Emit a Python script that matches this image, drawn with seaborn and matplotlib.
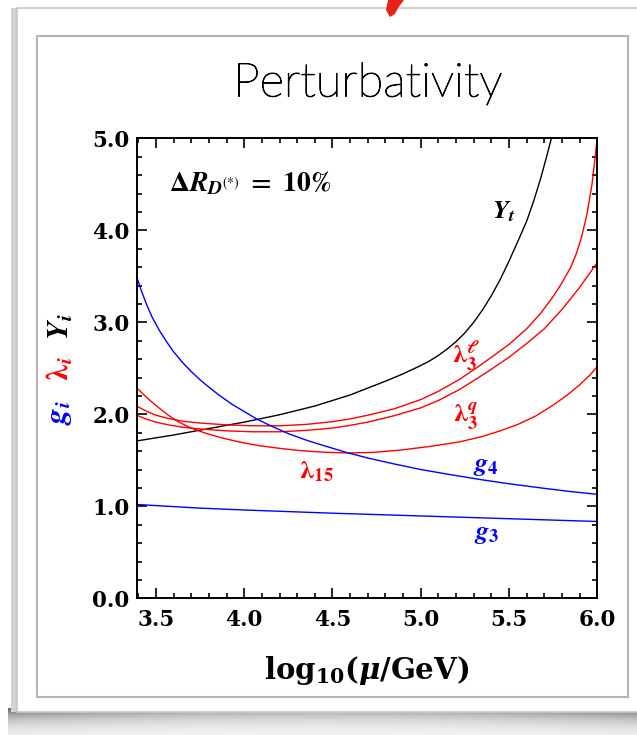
import numpy as np
import pandas as pd
import seaborn as sns
import matplotlib
matplotlib.use("Agg")
import matplotlib.pyplot as plt
import matplotlib.patheffects as pe
from matplotlib.patches import Rectangle, Polygon
from matplotlib.ticker import MultipleLocator, FuncFormatter

# ---------------- data ----------------
yt_x = [3.39, 3.6, 3.8, 4.0, 4.2, 4.4, 4.6, 4.7, 4.8, 4.9, 5.0, 5.05, 5.1, 5.15, 5.2, 5.25, 5.3, 5.35,
        5.4, 5.45, 5.5, 5.55, 5.6, 5.64, 5.68, 5.71, 5.74]
yt_y = [1.71, 1.775, 1.845, 1.915, 1.995, 2.09, 2.21, 2.285, 2.36, 2.44, 2.53, 2.58, 2.64, 2.71, 2.79,
        2.885, 3.00, 3.135, 3.29, 3.465, 3.665, 3.88, 4.10, 4.32, 4.57, 4.78, 5.00]

l3l_x = [3.39, 3.45, 3.5, 3.57, 3.65, 3.75, 3.9, 4.05, 4.2, 4.35, 4.5, 4.6, 4.7, 4.85, 5.0, 5.1, 5.22,
         5.32, 5.4, 5.5, 5.6, 5.68, 5.75, 5.8, 5.85, 5.88, 5.91, 5.94, 5.97, 6.0]
l3l_y = [2.09, 2.03, 1.99, 1.955, 1.925, 1.905, 1.885, 1.875, 1.875, 1.89, 1.92, 1.95, 1.99, 2.06, 2.16,
         2.25, 2.38, 2.51, 2.62, 2.76, 2.93, 3.10, 3.28, 3.43, 3.60, 3.74, 3.92, 4.16, 4.50, 5.00]

l3q_x = [3.39, 3.45, 3.5, 3.57, 3.65, 3.75, 3.9, 4.05, 4.2, 4.35, 4.5, 4.6, 4.7, 4.85, 5.0, 5.1, 5.22,
         5.32, 5.4, 5.5, 5.6, 5.7, 5.8, 5.9, 6.0]
l3q_y = [1.99, 1.945, 1.915, 1.885, 1.86, 1.84, 1.82, 1.81, 1.81, 1.825, 1.85, 1.88, 1.915, 1.985, 2.07,
         2.15, 2.27, 2.39, 2.49, 2.62, 2.77, 2.93, 3.14, 3.38, 3.65]

l15_x = [3.39, 3.43, 3.47, 3.52, 3.57, 3.63, 3.70, 3.78, 3.87, 3.97, 4.08, 4.2, 4.32, 4.45, 4.58, 4.72,
         4.88, 5.05, 5.22, 5.35, 5.45, 5.55, 5.65, 5.75, 5.83, 5.9, 5.96, 6.0]
l15_y = [2.29, 2.215, 2.145, 2.065, 1.99, 1.915, 1.85, 1.795, 1.745, 1.70, 1.66, 1.63, 1.605, 1.588, 1.58,
         1.585, 1.61, 1.65, 1.70, 1.76, 1.82, 1.89, 1.98, 2.10, 2.21, 2.32, 2.43, 2.52]

g4_x = [3.39, 3.42, 3.45, 3.48, 3.52, 3.56, 3.60, 3.65, 3.70, 3.75, 3.80, 3.86, 3.93, 4.00, 4.07, 4.15,
        4.25, 4.35, 4.45, 4.58, 4.70, 4.85, 5.00, 5.15, 5.34, 5.50, 5.70, 5.85, 6.00]
g4_y = [3.50, 3.33, 3.18, 3.05, 2.91, 2.79, 2.68, 2.565, 2.465, 2.375, 2.295, 2.205, 2.11, 2.03, 1.95,
        1.875, 1.79, 1.72, 1.66, 1.585, 1.525, 1.46, 1.40, 1.35, 1.29, 1.245, 1.195, 1.16, 1.13]

g3_x = [3.39, 3.75, 4.0, 4.5, 5.0, 5.5, 6.0]
g3_y = [1.02, 0.98, 0.96, 0.925, 0.895, 0.865, 0.835]

x_ticks = [3.5, 4.0, 4.5, 5.0, 5.5, 6.0]
y_ticks = [0.0, 1.0, 2.0, 3.0, 4.0, 5.0]

W, H = 637, 735

sns.set_style("ticks")
plt.rcParams["mathtext.fontset"] = "dejavuserif"
plt.rcParams["font.family"] = ["DejaVu Sans"]
plt.rcParams["text.color"] = "black"
plt.rcParams["axes.labelcolor"] = "black"
plt.rcParams["xtick.color"] = "black"
plt.rcParams["ytick.color"] = "black"

fig = plt.figure(figsize=(W / 100, H / 100), dpi=100)
fig.patch.set_facecolor("white")


def fx(px):
    return px / W


def fy(py):
    return 1 - py / H


# ------------- slide decoration -------------
sh = fig.add_axes([fx(8), fy(735), fx(637) - fx(8), fy(708) - fy(735)], zorder=0)
t = np.linspace(0, 1, 60)
u = np.linspace(-1, 1, 300)
across = 0.65 + 0.35 * (u ** 2)
img = np.outer(np.exp(-t * 2.2), across)
sh.imshow(1 - 0.62 * img, cmap="gray", vmin=0, vmax=1, aspect="auto", extent=[0, 1, 0, 1])
sh.axis("off")
fig.add_artist(Rectangle((fx(11), fy(712)), fx(8), fy(8) - fy(712), transform=fig.transFigure,
                         facecolor="#d2d2d2", edgecolor="none", zorder=1))
fig.add_artist(Rectangle((fx(17), fy(712)), fx(660) - fx(17), fy(8) - fy(712), transform=fig.transFigure,
                         facecolor="white", edgecolor="#c8c8c8", lw=1.2, zorder=1))
fig.add_artist(Rectangle((fx(37), fy(697)), fx(628) - fx(37), fy(36) - fy(697), transform=fig.transFigure,
                         facecolor="white", edgecolor="#b5b5b5", lw=1.5, zorder=1))
fig.add_artist(Polygon([(fx(388), fy(0)), (fx(404), fy(0)), (fx(398), fy(8)), (fx(395), fy(14)),
                        (fx(390), fy(17)), (fx(386), fy(10))], closed=True, transform=fig.transFigure,
                       facecolor="#e8221a", edgecolor="none", zorder=2))

fig.text(fx(368), fy(84), "Perturbativity", ha="center", va="center", fontsize=34,
         family=["Lato", "DejaVu Sans"], fontweight="light", color="black", zorder=3,
         path_effects=[pe.withStroke(linewidth=0.7, foreground="black")])

# ------------- axes -------------
ax = fig.add_axes([fx(136.5), fy(598.3), fx(597.3) - fx(136.5), fy(138.3) - fy(598.3)], zorder=3)
ax.set_facecolor("white")

curves = [
    (yt_x, yt_y, "black"),
    (l3l_x, l3l_y, "#ff0000"),
    (l3q_x, l3q_y, "#ff0000"),
    (l15_x, l15_y, "#ff0000"),
    (g4_x, g4_y, "#0000ff"),
    (g3_x, g3_y, "#0000ff"),
]
for xs, ys, c in curves:
    sns.lineplot(x=xs, y=ys, ax=ax, color=c, lw=1.0, sort=False, estimator=None)

ax.set_xlim(3.39, 6.0)
ax.set_ylim(0.0, 5.0)
ax.set_xticks(x_ticks)
ax.set_yticks(y_ticks)
ax.xaxis.set_minor_locator(MultipleLocator(0.1))
ax.yaxis.set_minor_locator(MultipleLocator(0.2))
fmt = FuncFormatter(lambda v, p: "%.1f" % v)
ax.xaxis.set_major_formatter(fmt)
ax.yaxis.set_major_formatter(fmt)
ax.tick_params(which="both", direction="in", top=True, right=True, width=1.2, color="black",
               labelcolor="black")
ax.tick_params(which="major", length=7)
ax.tick_params(which="minor", length=3.6)
ax.tick_params(axis="x", which="major", labelsize=15.5, pad=8)
ax.tick_params(axis="y", which="major", labelsize=15.5, pad=5)
for lab in ax.get_xticklabels() + ax.get_yticklabels():
    lab.set_family("DejaVu Serif")
    lab.set_fontweight("bold")
    lab.set_color("black")
for s in ax.spines.values():
    s.set_visible(True)
    s.set_linewidth(1.4)
    s.set_color("black")

ax.set_xlabel(r"$\mathbf{log_{10}(}\mathbfit{\mu}\mathbf{/GeV)}$", fontsize=21, labelpad=16, color="black")

# y label pieces (coloured)
fig.text(fx(60), fy(413), r"$\mathbfit{g}_{\mathbfit{i}}$", rotation=90, ha="center", va="center",
         fontsize=22, color="#0000ff", math_fontfamily="stix")
fig.text(fx(60), fy(369), r"$\mathbf{\lambda}_{\mathbfit{i}}$", rotation=90, ha="center", va="center",
         fontsize=22, color="#ff0000", math_fontfamily="stix")
fig.text(fx(60), fy(327), r"$\mathbfit{Y}_{\mathbfit{i}}$", rotation=90, ha="center", va="center",
         fontsize=22, color="black", math_fontfamily="stix")

# in-plot annotations
ax.text(3.575, 4.515, r"$\mathbf{\Delta}\mathbfit{R}_{\mathbfit{D}^{(*)}}\ \mathbf{=\ 10\%}$", ha="left",
        va="center", fontsize=20, color="black", math_fontfamily="stix")
ax.text(5.47, 4.20, r"$\mathbfit{Y}_{\mathbfit{t}}$", ha="center", va="center", fontsize=19, color="black",
        math_fontfamily="stix")
ax.text(5.257, 2.63, r"$\mathbf{\lambda}_{\mathbf{3}}^{\mathbfit{\ell}}$", ha="center", va="center",
        fontsize=19, color="#ff0000", math_fontfamily="stix")
ax.text(5.257, 1.98, r"$\mathbf{\lambda}_{\mathbf{3}}^{\mathbfit{q}}$", ha="center", va="center",
        fontsize=19, color="#ff0000", math_fontfamily="stix")
ax.text(4.41, 1.38, r"$\mathbf{\lambda}_{\mathbf{15}}$", ha="center", va="center", fontsize=19,
        color="#ff0000", math_fontfamily="stix")
ax.text(5.37, 1.45, r"$\mathbfit{g}_{\mathbf{4}}$", ha="center", va="center", fontsize=19,
        color="#0000ff", math_fontfamily="stix")
ax.text(5.376, 0.71, r"$\mathbfit{g}_{\mathbf{3}}$", ha="center", va="center", fontsize=19,
        color="#0000ff", math_fontfamily="stix")

fig.savefig("out.png", dpi=100)
